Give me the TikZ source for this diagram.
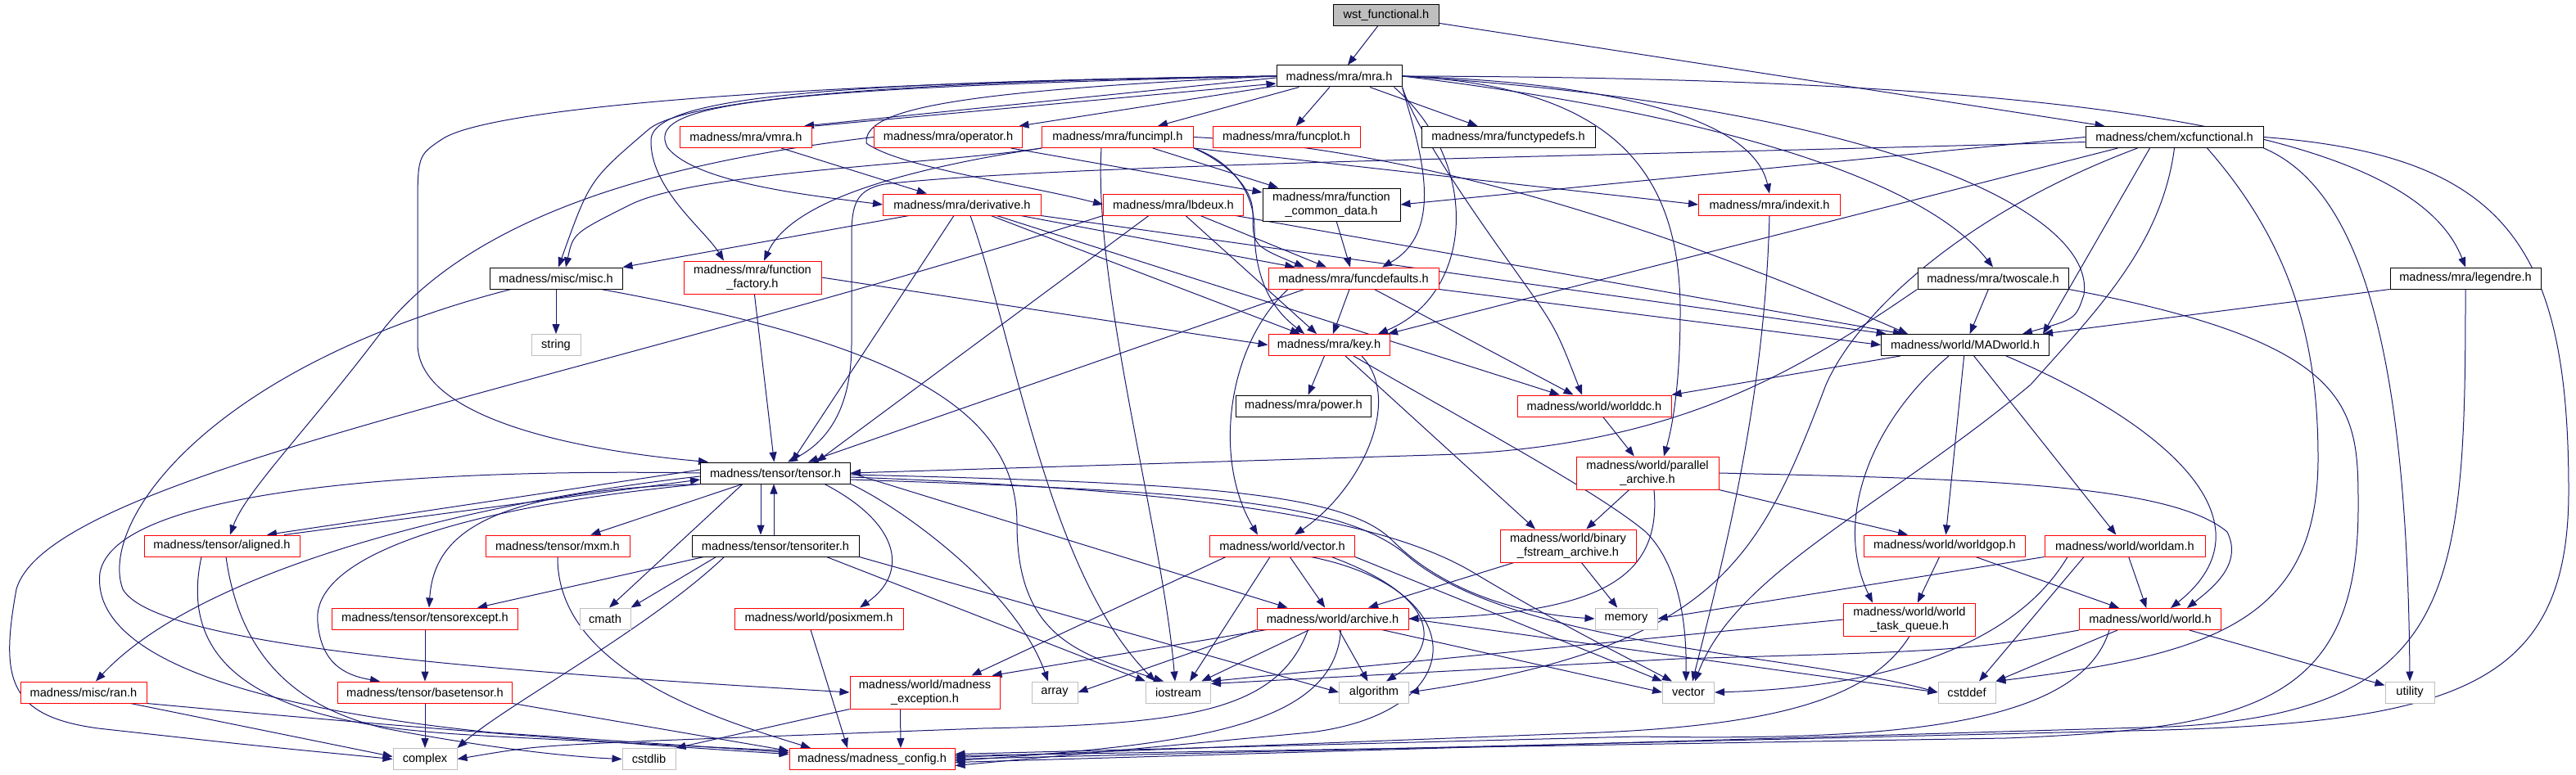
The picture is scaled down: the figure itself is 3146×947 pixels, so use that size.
\documentclass[tikz,border=0pt]{standalone}
\usepackage{fontspec}
\setmainfont{Liberation Sans}
\usetikzlibrary{arrows.meta}
\pgfdeclarelayer{bg}
\pgfsetlayers{bg,main}
\definecolor{incl}{RGB}{25,25,112}
\definecolor{sysgray}{RGB}{191,191,191}
\newcommand{\gfont}{\fontsize{14.6}{17}\selectfont}

\begin{document}
\begin{tikzpicture}[x=1pt,y=-1pt,
  hbox/.style={draw, fill=white, line width=1pt, minimum height=26pt, inner sep=0pt, font=\gfont, align=center},
  rootbox/.style={hbox, draw=black, fill=sysgray},
  incbox/.style={hbox, draw=black},
  trunc/.style={hbox, draw=red},
  sysbox/.style={hbox, draw=sysgray},
  dep/.style={draw=incl, line width=1pt, -{Triangle[length=12pt,width=9pt]}}]
\useasboundingbox (0,0) rectangle (3146,947);

\node[rootbox, minimum width=129pt] (wst) at (1693,18.5) {wst\_functional.h};
\node[incbox, minimum width=153pt] (mra) at (1635.5,93) {madness/mra/mra.h};
\node[trunc, minimum width=161pt] (vmra) at (911,167.5) {madness/mra/vmra.h};
\node[trunc, minimum width=181pt] (oper) at (1158,167.5) {madness/mra/operator.h};
\node[trunc, minimum width=185pt] (fimpl) at (1365,167.5) {madness/mra/funcimpl.h};
\node[trunc, minimum width=180pt] (fplot) at (1571,167.5) {madness/mra/funcplot.h};
\node[incbox, minimum width=212pt] (ftdef) at (1842,167.5) {madness/mra/functypedefs.h};
\node[incbox, minimum width=217pt] (xcf) at (2655.5,167.5) {madness/chem/xcfunctional.h};
\node[trunc, minimum width=193pt] (deriv) at (1175,250) {madness/mra/derivative.h};
\node[trunc, minimum width=171pt] (lbdeux) at (1433,250) {madness/mra/lbdeux.h};
\node[incbox, minimum width=168pt, minimum height=40pt] (fcd) at (1626,250) {madness/mra/function\\\_common\_data.h};
\node[trunc, minimum width=173pt] (indexit) at (2161,250) {madness/mra/indexit.h};
\node[incbox, minimum width=162pt] (misc) at (679,340) {madness/misc/misc.h};
\node[trunc, minimum width=168pt, minimum height=40pt] (ffact) at (919,339) {madness/mra/function\\\_factory.h};
\node[trunc, minimum width=208pt] (fdef) at (1653,340) {madness/mra/funcdefaults.h};
\node[incbox, minimum width=184pt] (twoscale) at (2434,340) {madness/mra/twoscale.h};
\node[incbox, minimum width=184pt] (legendre) at (3011,340) {madness/mra/legendre.h};
\node[sysbox, minimum width=60pt] (string) at (679,421.5) {string};
\node[trunc, minimum width=148pt] (key) at (1623,421.5) {madness/mra/key.h};
\node[incbox, minimum width=205pt] (madworld) at (2400,421.5) {madness/world/MADworld.h};
\node[incbox, minimum width=165pt] (power) at (1592,496) {madness/mra/power.h};
\node[trunc, minimum width=188pt] (worlddc) at (1947,496) {madness/world/worlddc.h};
\node[incbox, minimum width=183pt] (tensor) at (947,578) {madness/tensor/tensor.h};
\node[trunc, minimum width=174pt, minimum height=40pt] (parar) at (2012,578) {madness/world/parallel\\\_archive.h};
\node[trunc, minimum width=190pt] (aligned) at (271,667) {madness/tensor/aligned.h};
\node[trunc, minimum width=176pt] (mxm) at (681,667) {madness/tensor/mxm.h};
\node[incbox, minimum width=204pt] (titer) at (947,667) {madness/tensor/tensoriter.h};
\node[trunc, minimum width=177pt] (wvector) at (1566,667) {madness/world/vector.h};
\node[trunc, minimum width=166pt, minimum height=40pt] (binfs) at (1915,667) {madness/world/binary\\\_fstream\_archive.h};
\node[trunc, minimum width=197pt] (worldgop) at (2375,667) {madness/world/worldgop.h};
\node[trunc, minimum width=196pt] (worldam) at (2595,667) {madness/world/worldam.h};
\node[trunc, minimum width=227pt] (texcept) at (519,756) {madness/tensor/tensorexcept.h};
\node[sysbox, minimum width=62pt] (cmath) at (739,756) {cmath};
\node[trunc, minimum width=206pt] (posix) at (1000,756) {madness/world/posixmem.h};
\node[trunc, minimum width=185pt] (archive) at (1627.5,756) {madness/world/archive.h};
\node[sysbox, minimum width=76pt] (memory) at (1986,756) {memory};
\node[trunc, minimum width=161pt, minimum height=40pt] (taskq) at (2332,757) {madness/world/world\\\_task\_queue.h};
\node[trunc, minimum width=173pt] (world) at (2626,756.5) {madness/world/world.h};
\node[trunc, minimum width=154pt] (ran) at (102,846) {madness/misc/ran.h};
\node[trunc, minimum width=213pt] (basetensor) at (519,846) {madness/tensor/basetensor.h};
\node[trunc, minimum width=183pt, minimum height=40pt] (mexc) at (1129.5,846) {madness/world/madness\\\_exception.h};
\node[sysbox, minimum width=56pt] (array) at (1288,846) {array};
\node[sysbox, minimum width=79pt] (iostream) at (1439,846) {iostream};
\node[sysbox, minimum width=85pt] (algorithm) at (1678,846) {algorithm};
\node[sysbox, minimum width=63pt] (vector) at (2062,846) {vector};
\node[sysbox, minimum width=70pt] (cstddef) at (2402,846) {cstddef};
\node[sysbox, minimum width=60pt] (utility) at (2943,846) {utility};
\node[sysbox, minimum width=78pt] (complex) at (519,927.5) {complex};
\node[sysbox, minimum width=65pt] (cstdlib) at (792.5,927.5) {cstdlib};
\node[trunc, minimum width=202pt] (mconfig) at (1065,927.5) {madness/madness\_config.h};

\begin{pgfonlayer}{bg}
% top two levels
\draw[dep] (wst) -- (mra);
\draw[dep] (wst) -- ([xshift=-85pt]xcf.north);
\draw[dep] ([yshift=-2pt]mra.west) -- ([xshift=-10pt]vmra.north east);
\draw[dep] ([xshift=3pt]vmra.north east) -- ([yshift=-9pt]mra.west);
\draw[dep] (mra) -- (oper);
\draw[dep] (mra) -- (fimpl);
\draw[dep] (mra) -- (fplot);
\draw[dep] (mra) -- (ftdef);
\draw[dep] (mra.west) .. controls (900,108) and (790,130) .. (815,180) .. controls (850,225) and (1000,240) .. (deriv.west);
\draw[dep] (mra.west) .. controls (1150,112) and (1055,135) .. (1058,175) .. controls (1100,205) and (1250,225) .. (lbdeux.west);
\draw[dep] (mra.west) .. controls (1000,100) and (820,130) .. (790,160) .. controls (720,220) .. ([xshift=3pt]misc.north);
\draw[dep] (mra.west) .. controls (1000,100) and (800,120) .. (795,170) .. controls (793,230) and (860,280) .. ([xshift=-35pt]ffact.north);
\draw[dep] (mra.west) .. controls (1000,100) and (600,130) .. (540,170) .. controls (510,190) .. (510,260) -- (510,420) .. controls (510,510) and (700,550) .. ([xshift=10pt]tensor.north west);
\draw[dep] (mra.east) .. controls (1950,100) and (2140,140) .. (indexit.north);
\draw[dep] (mra.south east) .. controls (1730,170) and (1770,280) .. ([xshift=35pt]fdef.north);
\draw[dep] ([xshift=-10pt]mra.south east) .. controls (1810,200) and (1800,360) .. ([xshift=60pt]key.north);
\draw[dep] (mra.east) .. controls (2100,140) and (2350,220) .. (twoscale.north);
\draw[dep] (mra.east) .. controls (2600,95) and (2950,170) .. (legendre.north);
\draw[dep] (mra.east) .. controls (2300,130) and (2560,260) .. (2545,360) .. controls (2535,390) .. ([xshift=70pt]madworld.north);
\draw[dep] (mra.south east) .. controls (1730,160) and (1800,260) .. (1850,330) .. controls (1900,400) .. ([xshift=-15pt]worlddc.north);
\draw[dep] (mra.east) .. controls (1960,105) and (2052,200) .. (2052,380) .. controls (2052,480) and (2040,530) .. ([xshift=20pt]parar.north);
\draw[dep] (vmra) -- (deriv);
\draw[dep] (oper.west) .. controls (880,190) and (600,240) .. (470,400) .. controls (380,520) and (300,600) .. ([xshift=10pt]aligned.north);
\draw[dep] (oper) -- (fcd);
% funcimpl.h
\draw[dep] (fimpl.south west) .. controls (1150,200) and (850,210) .. (770,250) .. controls (700,285) .. ([xshift=12pt]misc.north);
\draw[dep] (fimpl.south west) .. controls (1050,215) and (960,260) .. ([xshift=14pt]ffact.north);
\draw[dep] (fimpl) -- (fcd);
\draw[dep] (fimpl.south east) -- (indexit.west);
\draw[dep] (fimpl.south east) .. controls (1500,200) and (1530,230) .. (1530,260) .. controls (1530,300) .. ([xshift=-60pt]fdef.north);
\draw[dep] (fimpl.south east) .. controls (1510,200) and (1532,240) .. (1532,280) .. controls (1532,360) and (1570,390) .. ([xshift=-30pt]key.north);
\draw[dep] (fimpl.east) .. controls (1800,185) and (2150,330) .. ([xshift=-70pt]madworld.north);
\draw[dep] ([xshift=-20pt]fimpl.south) .. controls (1335,350) and (1420,650) .. ([xshift=-4pt]iostream.north);
% derivative.h, lbdeux.h
\draw[dep] ([xshift=-65pt]deriv.south) -- (misc.north east);
\draw[dep] (deriv) -- (fdef);
\draw[dep] (deriv) -- (key);
\draw[dep] (deriv) -- (worlddc);
\draw[dep] (deriv) -- (madworld);
\draw[dep] ([xshift=-10pt]deriv.south) -- ([xshift=20pt]tensor.north);
\draw[dep] ([xshift=10pt]deriv.south) .. controls (1240,420) and (1280,700) .. ([xshift=12pt]iostream.north west);
\draw[dep] (lbdeux) -- (fdef);
\draw[dep] (lbdeux) -- (key);
\draw[dep] (lbdeux) -- (madworld);
\draw[dep] ([xshift=-30pt]lbdeux.south) -- ([xshift=50pt]tensor.north);
\draw[dep] (lbdeux.south west) .. controls (700,470) and (60,580) .. (20,720) .. controls (0,830) and (10,875) .. (120,890) .. controls (300,910) .. (complex.west);
\draw[dep] (fcd) -- (fdef);
\draw[dep] (indexit.south) .. controls (2155,500) and (2100,700) .. ([xshift=5pt]vector.north);
% xcfunctional.h
\draw[dep] (xcf.west) -- (fcd.east);
\draw[dep] ([yshift=-6pt]xcf.west) .. controls (2000,190) and (1300,200) .. (1080,225) .. controls (1045,232) and (1040,250) .. (1040,290) -- (1040,420) .. controls (1040,500) and (1010,540) .. ([xshift=15pt]tensor.north);
\draw[dep] ([xshift=40pt]xcf.south west) -- ([xshift=72pt]key.north);
\draw[dep] ([xshift=-30pt]xcf.south) -- ([xshift=95pt]madworld.north);
\draw[dep] ([xshift=-45pt]xcf.south) .. controls (2400,260) and (2270,380) .. (2230,470) .. controls (2150,680) and (2100,790) .. (algorithm.east);
\draw[dep] (xcf.south) .. controls (2640,300) and (2560,380) .. (2480,470) .. controls (2300,620) and (2120,700) .. ([xshift=8pt]vector.north);
\draw[dep] ([xshift=40pt]xcf.south) .. controls (2800,300) and (2831,420) .. (2831,560) .. controls (2831,760) and (2700,800) .. (cstddef.north east);
\draw[dep] (xcf.south east) .. controls (2880,230) and (2940,420) .. (utility.north);
\draw[dep] (xcf.east) .. controls (3060,190) and (3137,300) .. (3137,600) .. controls (3137,840) and (3000,885) .. (2600,893) -- (mconfig.east);
\draw[dep] (twoscale) -- (madworld);
\draw[dep] (twoscale.south west) .. controls (2200,450) and (2050,548) .. (1750,556) -- (tensor.east);
\draw[dep] (twoscale.south east) .. controls (2880,420) and (2880,500) .. (2880,620) .. controls (2880,860) and (2750,890) .. (2450,902) -- ([yshift=4pt]mconfig.east);
\draw[dep] (legendre.south west) -- ([xshift=-8pt]madworld.north east);
\draw[dep] (legendre.south) .. controls (3011,720) and (3000,870) .. (2650,888) -- ([yshift=-4pt]mconfig.east);
% misc.h, function_factory.h, funcdefaults.h, key.h
\draw[dep] (misc) -- (string);
\draw[dep] ([xshift=-55pt]misc.south) .. controls (250,450) and (120,640) .. (150,720) .. controls (190,790) and (600,820) .. (mexc.west);
\draw[dep] ([xshift=55pt]misc.south) .. controls (1100,420) and (1242,500) .. (1242,640) .. controls (1242,780) and (1320,800) .. ([xshift=-18pt]iostream.north);
\draw[dep] (ffact.east) -- (key.west);
\draw[dep] (ffact) -- (tensor);
\draw[dep] (fdef) -- (key);
\draw[dep] ([xshift=-60pt]fdef.south) -- ([xshift=40pt]tensor.north);
\draw[dep] (fdef) -- (worlddc);
\draw[dep] (fdef.south east) -- (madworld.west);
\draw[dep] ([xshift=-80pt]fdef.south) .. controls (1500,420) and (1480,560) .. ([xshift=-30pt]wvector.north);
\draw[dep] (key) -- (power);
\draw[dep] ([xshift=40pt]key.south) .. controls (1715,490) and (1660,600) .. ([xshift=15pt]wvector.north);
\draw[dep] ([xshift=20pt]key.south) -- ([xshift=-40pt]binfs.north);
\draw[dep] ([xshift=30pt]key.south) .. controls (1800,520) and (1950,600) .. (2010,650) .. controls (2050,690) and (2060,760) .. ([xshift=-3pt]vector.north);
% MADworld.h and the world headers
\draw[dep] (madworld) -- (worlddc.north east);
\draw[dep] (madworld) -- (worldgop);
\draw[dep] (madworld) -- (worldam);
\draw[dep] ([xshift=-20pt]madworld.south) .. controls (2280,520) and (2240,640) .. ([xshift=-45pt]taskq.north);
\draw[dep] ([xshift=50pt]madworld.south) .. controls (2650,520) and (2780,640) .. ([xshift=25pt]world.north);
\draw[dep] (worlddc) -- (parar);
\draw[dep] (parar) -- (binfs);
\draw[dep] ([xshift=8pt]parar.south) .. controls (2030,710) and (1950,750) .. (archive.east);
\draw[dep] (parar.south east) -- ([xshift=-45pt]worldgop.north);
\draw[dep] (parar.east) .. controls (2400,585) and (2650,590) .. (2720,650) .. controls (2740,690) and (2700,720) .. ([xshift=45pt]world.north);
% tensor.h
\draw[dep] ([yshift=4pt]tensor.west) -- ([xshift=55pt]aligned.north);
\draw[dep] ([xshift=76pt]aligned.north) -- ([yshift=-8pt]tensor.west);
\draw[dep] (tensor) -- (mxm);
\draw[dep] ([xshift=-18pt]tensor.south) -- ([xshift=-18pt]titer.north);
\draw[dep] ([xshift=-2pt]titer.north) -- ([xshift=-2pt]tensor.south);
\draw[dep] (tensor.south west) .. controls (600,600) and (530,650) .. ([xshift=5pt]texcept.north);
\draw[dep] ([xshift=-40pt]tensor.south) -- ([xshift=5pt]cmath.north);
\draw[dep] ([xshift=60pt]tensor.south) .. controls (1100,640) and (1110,700) .. ([xshift=50pt]posix.north);
\draw[dep] (tensor.east) -- ([xshift=-55pt]archive.north);
\draw[dep] ([yshift=-2pt]tensor.east) .. controls (1450,590) and (1640,600) .. (1700,660) .. controls (1760,720) and (1850,750) .. (memory.west);
\draw[dep] ([yshift=-5pt]tensor.east) .. controls (1500,600) and (1700,640) .. (1800,700) .. controls (1900,760) and (1980,800) .. ([xshift=-20pt]vector.north);
\draw[dep] ([yshift=-8pt]tensor.east) .. controls (1450,600) and (1640,610) .. (1720,680) .. controls (1850,790) and (2200,800) .. (cstddef.west);
\draw[dep] ([yshift=-4pt]tensor.west) .. controls (600,610) and (250,690) .. ([xshift=15pt]ran.north);
\draw[dep] (tensor.south west) .. controls (560,620) and (380,680) .. (388,760) .. controls (392,810) and (420,825) .. ([xshift=-55pt]basetensor.north);
\draw[dep] (tensor.south east) .. controls (1100,620) and (1240,720) .. ([xshift=-8pt]array.north);
\draw[dep] (tensor.west) .. controls (500,572) and (140,600) .. (122,700) .. controls (112,790) and (260,860) .. (600,895) -- ([yshift=8pt]mconfig.west);
\draw[dep] ([xshift=15pt]titer.south west) -- ([xshift=-50pt]texcept.north east);
\draw[dep] ([xshift=30pt]titer.south west) -- (cmath.north east);
\draw[dep] ([xshift=40pt]titer.south west) .. controls (790,770) and (620,860) .. (complex.north east);
\draw[dep] ([xshift=-40pt]titer.south east) -- (iostream.north west);
\draw[dep] (titer.south east) -- (algorithm.west);
% lower tensor headers
\draw[dep] ([xshift=5pt]aligned.south) .. controls (290,780) and (340,860) .. (470,890) .. controls (600,915) and (700,925) .. (cstdlib.west);
\draw[dep] ([xshift=-25pt]aligned.south) .. controls (220,800) and (300,870) .. (500,892) .. controls (560,898) .. ([yshift=10pt]mconfig.west);
\draw[dep] (mxm.south) .. controls (680,820) and (880,880) .. ([xshift=-75pt]mconfig.north);
\draw[dep] (texcept) -- (basetensor);
\draw[dep] (basetensor) -- (complex);
\draw[dep] (basetensor.south east) -- ([yshift=10pt]mconfig.west);
\draw[dep] ([xshift=-20pt]ran.south east) -- ([yshift=3pt]complex.west);
\draw[dep] (ran.south east) .. controls (400,880) and (700,905) .. ([yshift=6pt]mconfig.west);
\draw[dep] ([xshift=-10pt]posix.south) -- ([xshift=-30pt]mconfig.north);
\draw[dep] (mexc.south west) -- (cstdlib.north east);
\draw[dep] ([xshift=-30pt]mexc.south) -- ([xshift=35pt]mconfig.north);
% vector.h, archive.h
\draw[dep] (wvector) -- (archive);
\draw[dep] ([xshift=20pt]wvector.south west) -- ([xshift=-35pt]mexc.north east);
\draw[dep] ([xshift=-15pt]wvector.south) -- ([xshift=14pt]iostream.north);
\draw[dep] ([xshift=60pt]wvector.south) .. controls (1760,730) and (1760,790) .. ([xshift=15pt]algorithm.north);
\draw[dep] (wvector.south east) -- (vector.north west);
\draw[dep] ([xshift=35pt]wvector.south) .. controls (1800,720) and (1800,870) .. (1600,895) -- ([yshift=-8pt]mconfig.east);
\draw[dep] (archive) -- ([xshift=-10pt]mexc.north east);
\draw[dep] (archive.south west) -- (array.east);
\draw[dep] (archive) -- (iostream);
\draw[dep] (archive) -- (algorithm);
\draw[dep] ([xshift=60pt]archive.south) -- (vector.west);
\draw[dep] (archive.east) -- (cstddef.west);
\draw[dep] ([xshift=-30pt]archive.south) .. controls (1560,870) and (1450,885) .. (1200,890) -- (800,905) .. controls (650,912) .. (complex.east);
\draw[dep] ([xshift=10pt]archive.south) .. controls (1630,890) and (1450,910) .. ([yshift=-2pt]mconfig.east);
\draw[dep] (binfs) -- (archive);
\draw[dep] (binfs) -- (memory);
% world.h and friends
\draw[dep] (worldgop) -- (taskq);
\draw[dep] (worldgop) -- (world);
\draw[dep] (worldam.south west) -- (memory.east);
\draw[dep] (worldam) -- (world);
\draw[dep] ([xshift=-50pt]worldam.south) -- ([xshift=15pt]cstddef.north);
\draw[dep] ([xshift=-70pt]worldam.south) .. controls (2460,790) and (2300,840) .. (vector.east);
\draw[dep] (taskq.west) -- (iostream.north east);
\draw[dep] (taskq.south) .. controls (2280,860) and (2150,890) .. (1900,897) -- ([yshift=2pt]mconfig.east);
\draw[dep] (world.south west) .. controls (2400,795) .. (2050,805) -- ([yshift=-3pt]iostream.north east);
\draw[dep] ([xshift=-40pt]world.south) -- (cstddef.north east);
\draw[dep] (world) -- (utility);
\draw[dep] ([xshift=-50pt]world.south) .. controls (2540,890) and (2300,905) .. (2000,900) -- ([yshift=6pt]mconfig.east);
\end{pgfonlayer}
\end{tikzpicture}
\end{document}
